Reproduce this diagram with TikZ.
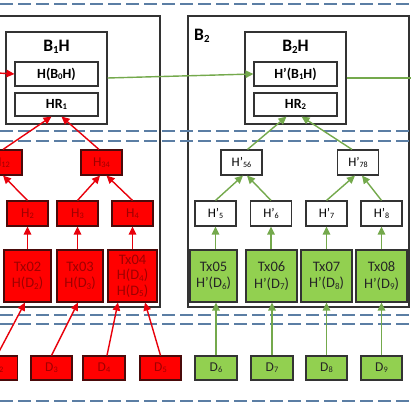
\documentclass[tikz,border=0pt]{standalone}
\usepackage{fontspec}
\setmainfont{Carlito}
\usetikzlibrary{arrows.meta}
\definecolor{dashc}{HTML}{5B7EA4}
\definecolor{redf}{HTML}{FF0000}
\definecolor{redt}{HTML}{9E0000}
\definecolor{redd}{HTML}{4A0A0A}
\definecolor{grnf}{HTML}{92D050}
\definecolor{grnl}{HTML}{74A94C}
\definecolor{arrred}{HTML}{E8000B}
\definecolor{boxd}{HTML}{333333}
\newcommand\sbs[1]{\raisebox{-0.2ex}{\scalebox{0.62}{#1}}}
\begin{document}
\begin{tikzpicture}[x=1pt,y=-1pt,
  sep/.style={dashc, line width=1.8pt, dash pattern=on 13pt off 5pt},
  cont/.style={draw=boxd, line width=1.1pt, inner sep=0pt},
  wbox/.style={draw=boxd, fill=white, line width=1.1pt, minimum width=41pt, minimum height=25pt, inner sep=0pt, font=\fontsize{13}{14}\selectfont},
  rbox/.style={draw=redd, fill=redf, text=redt, line width=1.1pt, minimum width=41pt, minimum height=25pt, inner sep=0pt, font=\fontsize{13.5}{15}\selectfont},
  gbox/.style={draw=boxd, fill=grnf, text=black!85, line width=1.1pt, minimum width=41pt, minimum height=24pt, inner sep=0pt, font=\fontsize{13.5}{15}\selectfont},
  rtx/.style={rbox, minimum width=47pt, minimum height=52pt, align=center, font=\fontsize{14.5}{16.5}\selectfont},
  gtx/.style={gbox, minimum width=49pt, minimum height=52pt, align=center, font=\fontsize{14.5}{16.5}\selectfont},
  hbox/.style={draw=boxd, fill=white, line width=1.1pt, minimum width=83pt, minimum height=24pt, inner sep=0pt, font=\bfseries\fontsize{14}{15}\selectfont},
  title/.style={font=\bfseries\fontsize{17.5}{19}\selectfont, inner sep=0pt},
  rarr/.style={arrred, line width=1.4pt, -{Triangle[length=8pt,width=7.5pt]}},
  garr/.style={grnl, line width=1.4pt, -{Triangle[length=8pt,width=7.5pt]}},
]
\clip (0,0) rectangle (411,411);
\fill[white] (0,0) rectangle (411,411);

% containers
\node[cont, minimum width=165pt, minimum height=291pt] (blk1) at (77.5,161.5) {};
\node[cont, minimum width=221pt, minimum height=291pt] (blk2) at (298.5,161.5) {};
\node[title, anchor=west] (lb2) at (194,36) {B\sbs{2}};

% separators
\draw[sep] (0,4) -- (411,4);
\draw[sep] (0,131) -- (411,131);
\draw[sep] (0,141) -- (411,141);
\draw[sep] (0,315) -- (411,315);
\draw[sep] (0,324) -- (411,324);
\draw[sep] (0,401) -- (411,401);

% block headers
\node[cont, fill=white, minimum width=101pt, minimum height=92pt] (b1h) at (56.5,78) {};
\node[title] (lb1h) at (56.5,47) {B\sbs{1}H};
\node[hbox] (hb0) at (56.5,74) {H(B\sbs{0}H)};
\node[hbox, minimum height=23pt] (hr1) at (56.5,104.5) {HR\sbs{1}};

\node[cont, fill=white, minimum width=101pt, minimum height=92pt] (b2h) at (295.5,78) {};
\node[title] (lb2h) at (295.5,47) {B\sbs{2}H};
\node[hbox] (hb1) at (295.5,74) {H’(B\sbs{1}H)};
\node[hbox, minimum height=23pt] (hr2) at (295.5,104.5) {HR\sbs{2}};

\coordinate (lin) at (-2,73);
\coordinate (rout) at (412,78);
\draw[rarr] (lin) -- (hb0.west);
\draw[garr] (b1h.east) -- (hb1.west);
\draw[grnl, line width=1.4pt] (b2h.east) -- (rout);

% red tree
\node[rbox] (h12) at (1.5,162.5) {H\sbs{12}};
\node[rbox] (h34) at (101.5,162.5) {H\sbs{34}};
\node[rbox] (h2) at (27.5,213.5) {H\sbs{2}};
\node[rbox] (h3) at (77.5,213.5) {H\sbs{3}};
\node[rbox] (h4) at (132.5,213.5) {H\sbs{4}};
\node[rtx] (tx02) at (27.5,276) {Tx02\\H(D\sbs{2})};
\node[rtx, minimum width=46pt] (tx03) at (80,276) {Tx03\\H(D\sbs{3})};
\node[rtx, minimum width=49pt, font=\fontsize{14.5}{15.5}\selectfont] (tx04) at (132.5,276) {Tx04\\H(D\sbs{4})\\H(D\sbs{5})};
\node[rbox, minimum height=24pt] (d2) at (-3,368) {D\sbs{2}};
\node[rbox, minimum height=24pt] (d3) at (51.5,368) {D\sbs{3}};
\node[rbox, minimum height=24pt, minimum width=42pt] (d4) at (104,368) {D\sbs{4}};
\node[rbox, minimum height=24pt] (d5) at (160.5,368) {D\sbs{5}};

\draw[rarr] ([xshift=1.5pt]h12.north) -- ([xshift=-5pt]hr1.south);
\draw[rarr] ([xshift=-2.5pt]h34.north) -- ([xshift=5pt]hr1.south);
\draw[rarr] (h2.north) -- ([xshift=1.5pt]h12.south);
\draw[rarr] (h3.north) -- ([xshift=-1.5pt]h34.south);
\draw[rarr] (h4.north) -- ([xshift=5pt]h34.south);
\draw[rarr] (tx02.north) -- (h2.south);
\draw[rarr] (tx03.north -| h3.south) -- (h3.south);
\draw[rarr] (tx04.north) -- (h4.south);
\draw[rarr] (d2.north) -- ([xshift=-2.5pt]tx02.south);
\draw[rarr] (d3.north) -- ([xshift=-2pt]tx03.south);
\draw[rarr] ([xshift=3pt]d4.north) -- ([xshift=-14.5pt]tx04.south);
\draw[rarr] (d5.north) -- ([xshift=12.5pt]tx04.south);

% green tree
\node[wbox] (h56) at (241.5,162.5) {H’\sbs{56}};
\node[wbox] (h78) at (358,162.5) {H’\sbs{78}};
\node[wbox] (h5) at (215.5,213.5) {H’\sbs{5}};
\node[wbox] (h6) at (271,213.5) {H’\sbs{6}};
\node[wbox] (h7) at (326.5,213.5) {H’\sbs{7}};
\node[wbox] (h8) at (381.5,213.5) {H’\sbs{8}};
\node[gtx, minimum width=47pt] (tx05) at (213.5,276) {Tx05\\H’(D\sbs{6})};
\node[gtx, minimum width=51pt] (tx06) at (271.5,276) {Tx06\\H’(D\sbs{7})};
\node[gtx, minimum width=51pt] (tx07) at (326.5,276) {Tx07\\H’(D\sbs{8})};
\node[gtx, minimum width=51pt] (tx08) at (381.5,276) {Tx08\\H’(D\sbs{9})};
\node[gbox, minimum width=42pt] (d6) at (216,368) {D\sbs{6}};
\node[gbox, minimum width=42pt] (d7) at (272,368) {D\sbs{7}};
\node[gbox] (d8) at (326.5,368) {D\sbs{8}};
\node[gbox] (d9) at (381.5,368) {D\sbs{9}};

\draw[garr] ([xshift=6pt]h56.north) -- ([xshift=-9pt]hr2.south);
\draw[garr] ([xshift=-6pt]h78.north) -- ([xshift=6pt]hr2.south);
\draw[garr] (h5.north) -- ([xshift=1.5pt]h56.south);
\draw[garr] (h6.north) -- ([xshift=5.5pt]h56.south);
\draw[garr] (h7.north) -- ([xshift=-3pt]h78.south);
\draw[garr] (h8.north) -- ([xshift=4pt]h78.south);
\draw[garr] (tx05.north -| h5.south) -- (h5.south);
\draw[garr] (tx06.north -| h6.south) -- (h6.south);
\draw[garr] (tx07.north) -- (h7.south);
\draw[garr] (tx08.north) -- (h8.south);
\draw[garr] (d6.north) -- (tx05.south -| d6.north);
\draw[garr] (d7.north) -- (tx06.south -| d7.north);
\draw[garr] (d8.north) -- (tx07.south);
\draw[garr] (d9.north) -- (tx08.south);
\end{tikzpicture}
\end{document}
